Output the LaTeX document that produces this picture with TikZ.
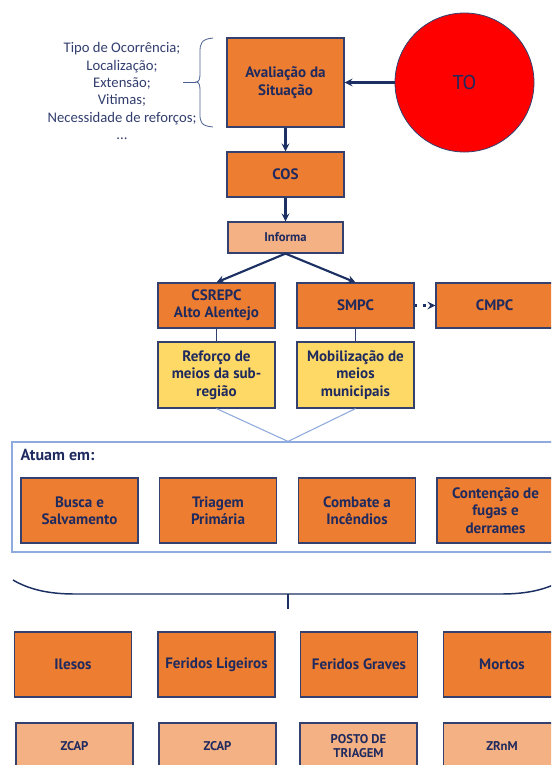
\documentclass[tikz,border=0pt]{standalone}
\usepackage{fontspec}
\setmainfont{PT Sans}
\newfontfamily\listfont{Carlito}
\usetikzlibrary{arrows.meta}
\definecolor{boxorange}{RGB}{237,125,49}
\definecolor{boxpeach}{RGB}{244,177,131}
\definecolor{boxyellow}{RGB}{255,217,102}
\definecolor{navytext}{RGB}{31,42,94}
\definecolor{listtext}{RGB}{50,62,110}
\definecolor{boxline}{RGB}{52,64,110}
\definecolor{arrowblue}{RGB}{28,48,100}
\definecolor{paleblue}{RGB}{143,170,220}
\definecolor{bracegray}{RGB}{75,95,145}

\begin{document}
\begin{tikzpicture}[x=0.75pt, y=-0.75pt, >=stealth,
  box/.style={draw=boxline, line width=0.9pt, fill=boxorange, text=navytext,
    font=\bfseries\fontsize{11.3}{13}\selectfont, align=center,
    minimum width=87.75pt, minimum height=33.75pt, inner sep=1pt},
  tallbox/.style={box, minimum height=66.75pt},
  rowbox/.style={box, minimum height=48.75pt},
  yellowbox/.style={box, fill=boxyellow, minimum height=49.5pt},
  peachbox/.style={box, fill=boxpeach, font=\bfseries\fontsize{9.5}{11}\selectfont},
  flow/.style={->, draw=arrowblue, line width=1.6pt},
  thinlink/.style={draw=boxline, line width=0.6pt},
  palelink/.style={draw=paleblue, line width=0.8pt}]

\clip (0,0) rectangle (551,765);

\node[align=center, text=listtext, font=\listfont\fontsize{11}{13}\selectfont] (criterios) at (122,91)
  {Tipo de Ocorrência;\\Localização;\\Extensão;\\Vitimas;\\Necessidade de reforços;\\...};
\draw[bracegray, line width=0.6pt] (213,38) .. controls (201,39) and (200,44) .. (200,52) -- (200,74)
  .. controls (200,79) and (199,82) .. (196,82) .. controls (199,82) and (200,85) .. (200,90)
  -- (200,114) .. controls (200,122) and (201,126) .. (213,127);
\coordinate (bracetip) at (196,82);
\coordinate (bracestub) at (183,82);
\draw[bracegray, line width=0.6pt] (bracestub) -- (bracetip);

\node[tallbox] (aval) at (285.5,82.5) {Avaliação da\\Situação};
\node[circle, draw=boxline, line width=0.6pt, fill=red, minimum size=104.25pt,
  text=navytext, font=\fontsize{15}{17}\selectfont] (to) at (464.5,82.5) {TO};
\node[box] (cos) at (285.5,174.5) {COS};
\node[peachbox, minimum width=86.25pt, minimum height=23.25pt] (informa) at (285.5,237.5) {Informa};

\node[box] (csrepc) at (216.5,305.5) {CSREPC\\Alto Alentejo};
\node[box] (smpc) at (355.5,305.5) {SMPC};
\node[box] (cmpc) at (494.5,305.5) {CMPC};
\node[yellowbox] (reforco) at (216.5,375) {Reforço de\\meios da sub-\\região};
\node[yellowbox] (mobil) at (355.5,375) {Mobilização de\\meios\\municipais};

\draw[flow] (to) -- (aval);
\draw[flow] (aval) -- (cos);
\draw[flow] (cos) -- (informa);
\draw[flow] (informa.south) -- (csrepc.north);
\draw[flow] (informa.south) -- (smpc.north);
\draw[flow, dash pattern=on 1.6pt off 5pt] (smpc) -- (cmpc);
\draw[thinlink] (csrepc) -- (reforco);
\draw[thinlink] (smpc) -- (mobil);

\node[draw=paleblue, line width=0.9pt, minimum width=414pt, minimum height=82.5pt] (atuam) at (288,497) {};
\draw[palelink] (reforco.south) -- (atuam.north) -- (mobil.south);
\node[anchor=west, text=navytext, font=\bfseries\fontsize{12}{14}\selectfont] (atuamlbl) at (16,455) {Atuam em:};

\node[rowbox] (busca) at (79.5,510.5) {Busca e\\Salvamento};
\node[rowbox] (triagem) at (218,510.5) {Triagem\\Primária};
\node[rowbox] (combate) at (357,510.5) {Combate a\\Incêndios};
\node[rowbox] (contencao) at (495.5,510.5) {Contenção de\\fugas e\\derrames};

\draw[arrowblue, line width=1.1pt] (13,580) .. controls (30,590) and (50,594) .. (75,594) -- (501,594)
  .. controls (526,594) and (546,590) .. (563,580);
\coordinate (join) at (288,594);
\coordinate (joinend) at (288,609);
\draw[arrowblue, line width=1.1pt] (join) -- (joinend);

\node[rowbox] (ilesos) at (73,664.5) {Ilesos};
\node[rowbox] (ligeiros) at (216.5,664.5) {Feridos Ligeiros};
\node[rowbox] (graves) at (359,664.5) {Feridos Graves};
\node[rowbox] (mortos) at (502,664.5) {Mortos};

\node[peachbox, minimum height=34.5pt] (zcapa) at (74.5,746) {ZCAP};
\node[peachbox, minimum height=34.5pt] (zcapb) at (217.5,746) {ZCAP};
\node[peachbox, minimum height=34.5pt] (posto) at (358.5,746) {POSTO DE\\TRIAGEM};
\node[peachbox, minimum height=34.5pt] (zrnm) at (502,746) {ZRnM};
\end{tikzpicture}
\end{document}
